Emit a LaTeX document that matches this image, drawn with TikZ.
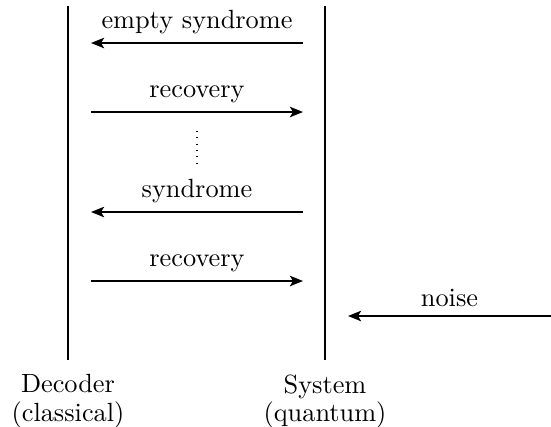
\documentclass[tikz,border=0pt]{standalone}
\usetikzlibrary{arrows.meta}
\begin{document}
\begin{tikzpicture}[x=0.38pt,y=-0.38pt,
  party/.style={semithick},
  msg/.style={semithick,-{Stealth[length=5pt,width=4pt,inset=1.2pt]}},
  lbl/.style={align=center,anchor=north,inner sep=0pt}]
\useasboundingbox (0,0) rectangle (551,426);
% lifelines
\coordinate (dtop) at (68,6);
\coordinate (dbot) at (68,360);
\coordinate (stop) at (325,6);
\coordinate (sbot) at (325,360);
\draw[party] (dtop) -- (dbot);
\draw[party] (stop) -- (sbot);
\node[lbl] (dec) at (68,374) {Decoder\\[-1.2pt](classical)};
\node[lbl] (sys) at (325,374) {System\\[-1.2pt](quantum)};
% message end points
\coordinate (d1) at (91,43);  \coordinate (s1) at (303,43);
\coordinate (d2) at (91,112); \coordinate (s2) at (303,112);
\coordinate (d3) at (91,212); \coordinate (s3) at (303,212);
\coordinate (d4) at (91,281); \coordinate (s4) at (303,281);
\coordinate (n1) at (551,316); \coordinate (n2) at (348,316);
\coordinate (v1) at (197,131); \coordinate (v2) at (197,165);
\draw[msg] (s1) -- node[above] {empty syndrome} (d1);
\draw[msg] (d2) -- node[above] {recovery} (s2);
\draw[dotted] (v1) -- (v2);
\draw[msg] (s3) -- node[above] {syndrome} (d3);
\draw[msg] (d4) -- node[above] {recovery} (s4);
\draw[msg] (n1) -- node[above] {noise} (n2);
\end{tikzpicture}
\end{document}
